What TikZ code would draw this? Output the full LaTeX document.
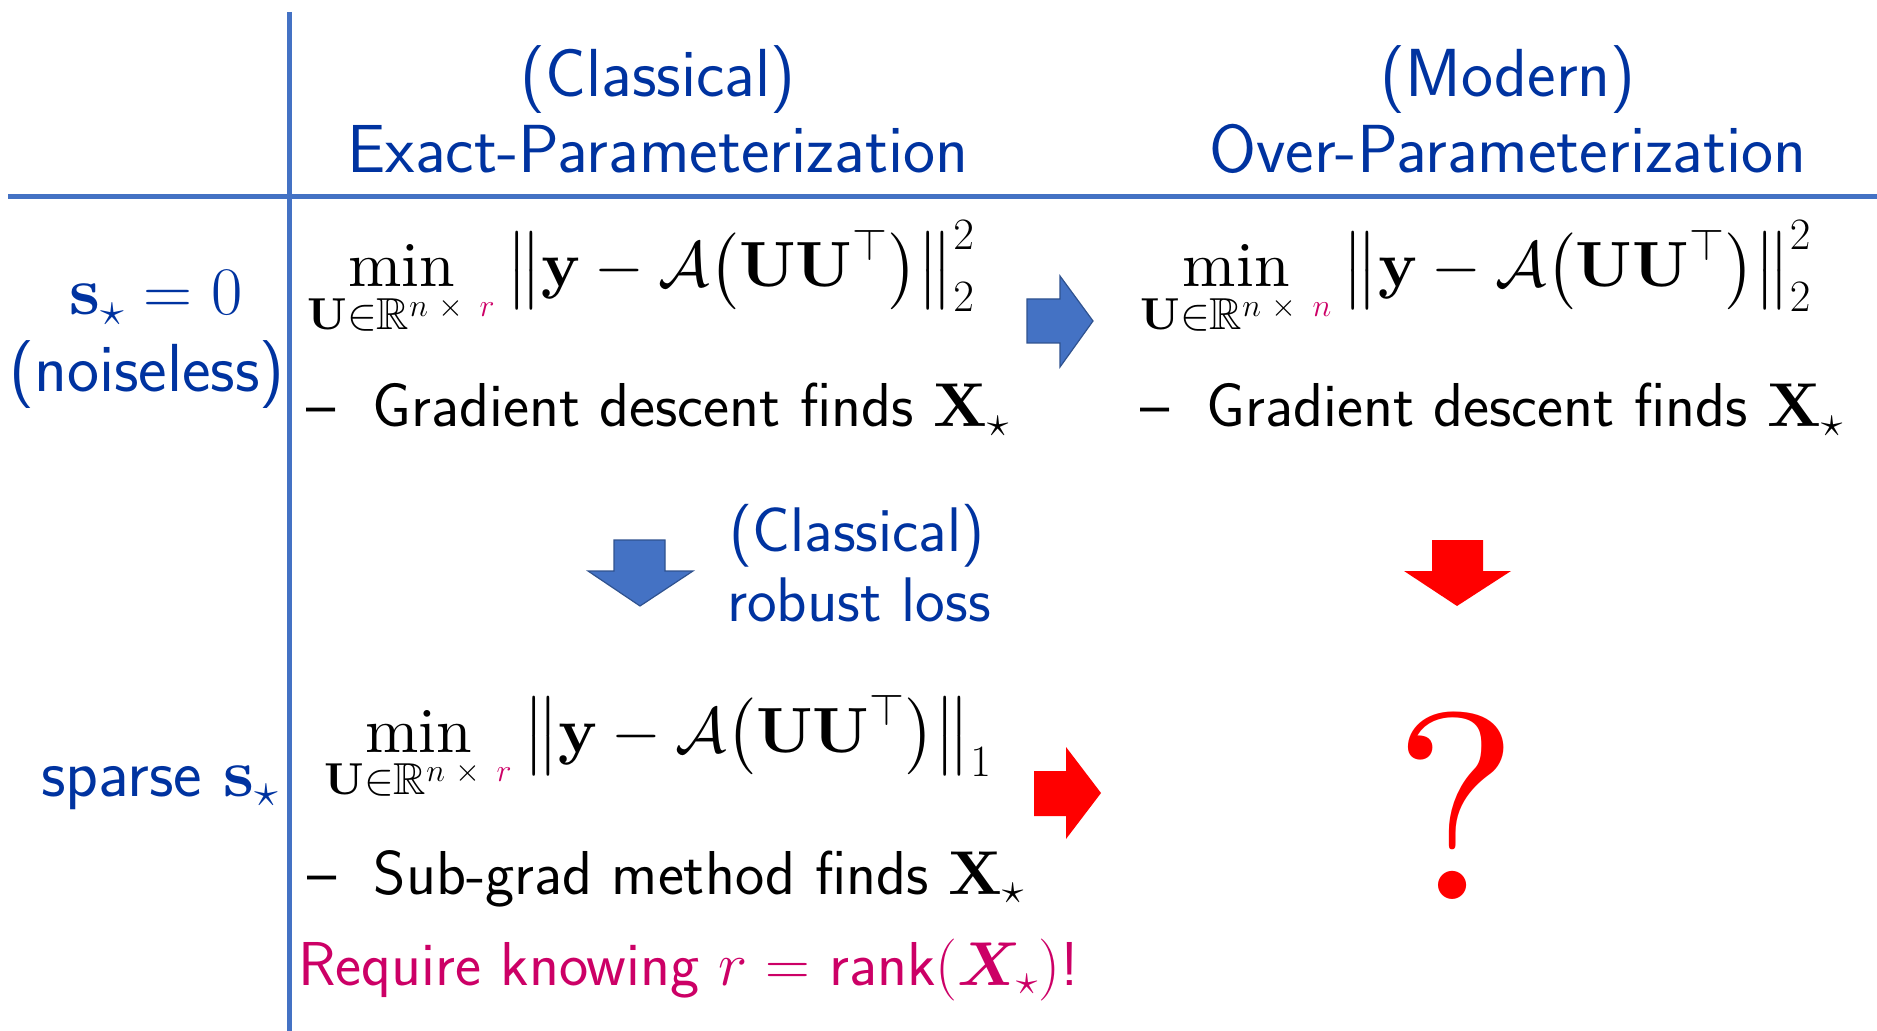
\RequirePackage{fix-cm}
\documentclass[tikz,border=0pt]{standalone}
\usepackage{amsmath,amssymb,bm}
\usepackage{fontspec}
\setmainfont{lmroman10-regular.otf}[BoldFont=lmroman10-bold.otf, ItalicFont=lmroman10-italic.otf, BoldItalicFont=lmroman10-bolditalic.otf]
\DeclareFontFamily{U}{msb}{}
\DeclareFontShape{U}{msb}{m}{n}{<-> msbm10}{}
\DeclareFontFamily{U}{msa}{}
\DeclareFontShape{U}{msa}{m}{n}{<-> msam10}{}
\definecolor{hblue}{HTML}{0033A0}
\definecolor{lblue}{HTML}{4472C4}
\definecolor{oblue}{HTML}{2F528F}
\definecolor{mag}{HTML}{CC0066}
\definecolor{ared}{HTML}{FF0000}
\newcommand\fsz[1]{\fontsize{#1}{#1}\selectfont}
\newcommand\lossA[1]{\big\|\mathbf{y}-\mathcal{A}\bigl(\mathbf{U}\mathbf{U}^\top\bigr)\big\|#1}
\newcommand\subU[1]{\mathbf{U}\in\mathbb{R}^{n\mkern6mu\times\mkern9mu{\color{mag}#1}}}
\tikzset{
  rule/.style={draw=lblue, line width=2.5pt},
  head/.style={inner sep=0pt, anchor=base, text=hblue, font=\sffamily\fsz{34}},
  rowlab/.style={inner sep=0pt, anchor=base, text=hblue, font=\sffamily\fsz{34}},
  sublab/.style={inner sep=0pt, anchor=base, text=hblue, font=\sffamily\fsz{31.5}},
  formula/.style={inner sep=0pt, anchor=base west, font=\fsz{32}},
  bullet/.style={inner sep=0pt, anchor=base west, font=\sffamily\fsz{31}},
  bluearrow/.style={fill=lblue, draw=oblue, line width=0.6pt},
  redarrow/.style={fill=ared}
}
\begin{document}
\begin{tikzpicture}[x=0.5pt, y=-0.5pt]
\useasboundingbox (0,0) rectangle (1877,1031);
% grid lines
\coordinate (vtop) at (289,12);
\coordinate (vbot) at (289,1031);
\coordinate (hl) at (8,197);
\coordinate (hr) at (1877,197);
\draw[rule] (vtop) -- (vbot);
\draw[rule] (hl) -- (hr);
% headers
\node[head] (h1a) at (658,97) {(Classical)};
\node[head] (h1b) at (658,173) {Exact-Parameterization};
\node[head] (h2a) at (1508,97) {(Modern)};
\node[head] (h2b) at (1508,173) {Over-Parameterization};
% row labels
\node[rowlab] (r1a) at (156,315) {$\mathbf{s}_\star = 0$};
\node[rowlab] (r1b) at (147,392) {(noiseless)};
\node[rowlab] (r2) at (160,796) {sparse $\mathbf{s}_\star$};
% formulas
\node[formula] (f1) at (307,287) {$\displaystyle \min_{\subU{r}} \lossA{_2^2}$};
\node[formula] (f2) at (1140,287) {$\displaystyle \min_{\subU{n}} \lossA{_2^2}$};
\node[formula] (f3) at (324,752) {$\displaystyle \min_{\subU{r}} \lossA{_1}$};
% bullets
\node[bullet] (b1) at (306,427) {\textendash\hspace{0.6em}Gradient descent finds $\mathbf{X}_\star$};
\node[bullet] (b2) at (1140,427) {\textendash\hspace{0.6em}Gradient descent finds $\mathbf{X}_\star$};
\node[bullet] (b3) at (307,894) {\textendash\hspace{0.6em}Sub-grad method finds $\mathbf{X}_\star$};
\node[bullet, text=mag] (req) at (298,985) {Require knowing $r =$ rank$(\bm{X}_\star)$!};
% robust loss label
\node[sublab] (cl) at (857,551) {(Classical)};
\node[sublab] (rl) at (859,621) {robust loss};
% question mark
\node[inner sep=0pt, anchor=base, text=ared, font=\fsz{133}] (q) at (1456,899) {?};
% blue right arrow
\draw[bluearrow] (1027,299) -- (1060,299) -- (1060,276) -- (1093,321) -- (1060,367) -- (1060,343) -- (1027,343) -- cycle;
% blue down arrow
\draw[bluearrow] (614,540) -- (665,540) -- (665,571) -- (693,571) -- (640,606) -- (588,571) -- (614,571) -- cycle;
% red down arrow
\fill[redarrow] (1432,540) -- (1483,540) -- (1483,571) -- (1511,571) -- (1457,606) -- (1404,571) -- (1432,571) -- cycle;
% red right arrow
\fill[redarrow] (1034,771) -- (1066,771) -- (1066,747) -- (1101,793) -- (1066,839) -- (1066,816) -- (1034,816) -- cycle;
\end{tikzpicture}
\end{document}
